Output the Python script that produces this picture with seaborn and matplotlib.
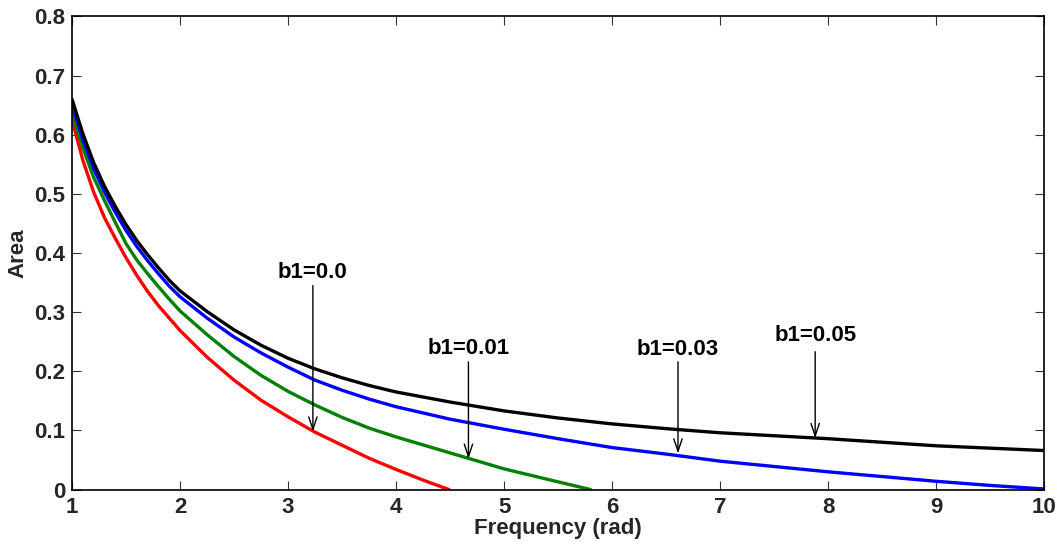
import numpy as np
import pandas as pd
import matplotlib
matplotlib.use("Agg")
import matplotlib.pyplot as plt
import seaborn as sns

# ---- data ----
x_grid = [1.0, 1.1, 1.2, 1.3, 1.4, 1.5, 1.6, 1.7, 1.8, 1.9, 2.0, 2.25, 2.5, 2.75,
          3.0, 3.25, 3.5, 3.75, 4.0, 4.5, 5.0, 5.5, 6.0, 6.5, 7.0, 7.5, 8.0,
          8.5, 9.0, 9.5, 10.0]

black_y = [0.660, 0.602, 0.553, 0.513, 0.479, 0.448, 0.421, 0.397, 0.375, 0.354,
           0.336, 0.301, 0.270, 0.244, 0.222, 0.204, 0.189, 0.176, 0.165, 0.148,
           0.133, 0.121, 0.111, 0.103, 0.096, 0.091, 0.086, 0.080, 0.074, 0.070,
           0.066]

blue_y = [0.650, 0.592, 0.543, 0.503, 0.469, 0.438, 0.411, 0.387, 0.365, 0.344,
          0.326, 0.290, 0.258, 0.231, 0.207, 0.185, 0.168, 0.153, 0.140, 0.119,
          0.102, 0.086, 0.071, 0.060, 0.048, 0.039, 0.030, 0.022, 0.014, 0.007,
          0.001]

green_x = [1.0, 1.1, 1.2, 1.3, 1.4, 1.5, 1.6, 1.7, 1.8, 1.9, 2.0, 2.25, 2.5, 2.75,
           3.0, 3.25, 3.5, 3.75, 4.0, 4.5, 5.0, 5.5, 5.8]
green_y = [0.638, 0.578, 0.528, 0.489, 0.452, 0.416, 0.388, 0.365, 0.343, 0.322,
           0.302, 0.262, 0.225, 0.193, 0.166, 0.143, 0.122, 0.104, 0.089, 0.062,
           0.035, 0.013, 0.0]

red_x = [1.0, 1.1, 1.2, 1.3, 1.4, 1.5, 1.6, 1.7, 1.8, 1.9, 2.0, 2.25, 2.5, 2.75,
         3.0, 3.25, 3.5, 3.75, 4.0, 4.25, 4.49]
red_y = [0.625, 0.557, 0.503, 0.460, 0.425, 0.392, 0.362, 0.335, 0.311, 0.290,
         0.269, 0.224, 0.185, 0.151, 0.123, 0.097, 0.075, 0.053, 0.034, 0.016, 0.0]

annot_labels = ["b1=0.0", "b1=0.01", "b1=0.03", "b1=0.05"]
annot_x = [3.23, 4.67, 6.61, 7.88]
annot_text_y = [0.367, 0.238, 0.237, 0.260]
annot_tail_y = [0.345, 0.216, 0.216, 0.233]
annot_tip_y = [0.098, 0.052, 0.061, 0.087]

x_ticks = [1, 2, 3, 4, 5, 6, 7, 8, 9, 10]
y_ticks = [0, 0.1, 0.2, 0.3, 0.4, 0.5, 0.6, 0.7, 0.8]
y_tick_labels = ["0", "0.1", "0.2", "0.3", "0.4", "0.5", "0.6", "0.7", "0.8"]

# ---- figure ----
sns.set_style("ticks")
plt.rcParams["font.family"] = ["Liberation Sans", "DejaVu Sans"]
plt.rcParams["font.weight"] = "bold"

fig = plt.figure(figsize=(10.59, 5.47), dpi=100)
ax = fig.add_axes([0.068, 0.105, 0.918, 0.865])

lw = 2.4
sns.lineplot(x=red_x, y=red_y, ax=ax, color="#ff0000", linewidth=lw, sort=False)
sns.lineplot(x=green_x, y=green_y, ax=ax, color="#008000", linewidth=lw, sort=False)
sns.lineplot(x=x_grid, y=blue_y, ax=ax, color="#0000ff", linewidth=lw, sort=False)
sns.lineplot(x=x_grid, y=black_y, ax=ax, color="#000000", linewidth=lw, sort=False)

for lab, xa, ty, tl, tp in zip(annot_labels, annot_x, annot_text_y,
                               annot_tail_y, annot_tip_y):
    ax.text(xa, ty, lab, ha="center", va="center", fontsize=16,
            fontweight="bold", color="black")
    ax.annotate("", xy=(xa, tp), xytext=(xa, tl),
                arrowprops=dict(arrowstyle="->,head_length=0.9,head_width=0.3",
                                color="black", lw=1.0,
                                shrinkA=0, shrinkB=0))

ax.set_xlim(1, 10)
ax.set_ylim(0, 0.8)
ax.set_xticks(x_ticks)
ax.set_xticklabels([str(t) for t in x_ticks])
ax.set_yticks(y_ticks)
ax.set_yticklabels(y_tick_labels)

ax.tick_params(direction="in", length=6.5, width=0.8, top=True, right=True,
               labelsize=16, pad=5, color="#333333")
for lbl in ax.get_xticklabels() + ax.get_yticklabels():
    lbl.set_fontweight("bold")
for sp in ax.spines.values():
    sp.set_visible(True)
    sp.set_linewidth(1.2)
    sp.set_color("black")

ax.set_xlabel("Frequency (rad)", fontsize=16, fontweight="bold", labelpad=0)
ax.set_ylabel("Area", fontsize=16, fontweight="bold", labelpad=4)

fig.savefig("out.png", dpi=100)
